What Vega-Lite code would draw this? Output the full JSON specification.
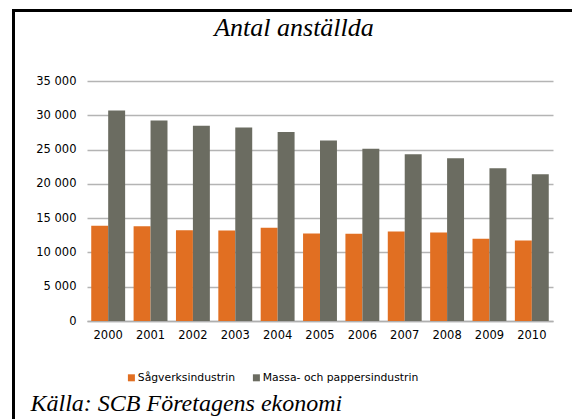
{
  "$schema": "https://vega.github.io/schema/vega-lite/v6.json",
  "autosize": "none",
  "width": 466,
  "height": 240,
  "padding": {"left": 87, "top": 81, "right": 19, "bottom": 98},
  "background": "white",
  "title": {
    "text": "Antal anställda",
    "font": "Liberation Serif",
    "fontStyle": "italic",
    "fontWeight": "normal",
    "fontSize": 26,
    "color": "#000000",
    "anchor": "middle",
    "frame": "group",
    "dx": -26,
    "dy": 25,
    "baseline": "alphabetic",
    "offset": -29.5
  },
  "datasets": {
    "antal": [
      {"year": "2000", "serie": "Sågverksindustrin", "antal": 13900},
      {"year": "2001", "serie": "Sågverksindustrin", "antal": 13830},
      {"year": "2002", "serie": "Sågverksindustrin", "antal": 13240},
      {"year": "2003", "serie": "Sågverksindustrin", "antal": 13200},
      {"year": "2004", "serie": "Sågverksindustrin", "antal": 13590},
      {"year": "2005", "serie": "Sågverksindustrin", "antal": 12760},
      {"year": "2006", "serie": "Sågverksindustrin", "antal": 12720},
      {"year": "2007", "serie": "Sågverksindustrin", "antal": 13050},
      {"year": "2008", "serie": "Sågverksindustrin", "antal": 12910},
      {"year": "2009", "serie": "Sågverksindustrin", "antal": 11990},
      {"year": "2010", "serie": "Sågverksindustrin", "antal": 11740},
      {"year": "2000", "serie": "Massa- och pappersindustrin", "antal": 30700},
      {"year": "2001", "serie": "Massa- och pappersindustrin", "antal": 29240},
      {"year": "2002", "serie": "Massa- och pappersindustrin", "antal": 28460},
      {"year": "2003", "serie": "Massa- och pappersindustrin", "antal": 28220},
      {"year": "2004", "serie": "Massa- och pappersindustrin", "antal": 27560},
      {"year": "2005", "serie": "Massa- och pappersindustrin", "antal": 26320},
      {"year": "2006", "serie": "Massa- och pappersindustrin", "antal": 25110},
      {"year": "2007", "serie": "Massa- och pappersindustrin", "antal": 24330},
      {"year": "2008", "serie": "Massa- och pappersindustrin", "antal": 23740},
      {"year": "2009", "serie": "Massa- och pappersindustrin", "antal": 22290},
      {"year": "2010", "serie": "Massa- och pappersindustrin", "antal": 21410}
    ],
    "frame": [{"part": "frame"}]
  },
  "layer": [
    {
      "data": {"name": "antal"},
      "mark": {"type": "bar"},
      "encoding": {
        "x": {
          "field": "year",
          "type": "nominal",
          "scale": {"paddingInner": 0.2, "paddingOuter": 0.1},
          "axis": {
            "title": "Källa: SCB Företagens ekonomi",
            "titleFont": "Liberation Serif",
            "titleFontStyle": "italic",
            "titleFontWeight": "normal",
            "titleFontSize": 24,
            "titleColor": "#000000",
            "titleAnchor": "start",
            "titleAlign": "left",
            "titleBaseline": "alphabetic",
            "titleX": -57,
            "titleY": 89,
            "labelAngle": 0,
            "labelFont": "DejaVu Sans",
            "labelFontSize": 11.5,
            "labelColor": "#000000",
            "labelPadding": 8,
            "ticks": false,
            "domain": true,
            "domainColor": "#AFAFAF",
            "domainWidth": 1.5,
            "grid": false
          }
        },
        "xOffset": {
          "field": "serie",
          "type": "nominal",
          "sort": ["Sågverksindustrin", "Massa- och pappersindustrin"],
          "scale": {"paddingInner": 0, "paddingOuter": 0}
        },
        "y": {
          "field": "antal",
          "type": "quantitative",
          "scale": {"domain": [0, 35000], "nice": false},
          "axis": {
            "title": null,
            "values": [0, 5000, 10000, 15000, 20000, 25000, 30000, 35000],
            "labelExpr": "replace(format(datum.value, ','), ',', ' ')",
            "labelFont": "DejaVu Sans",
            "labelFontSize": 11.5,
            "labelColor": "#000000",
            "labelPadding": 11,
            "ticks": false,
            "domain": false,
            "grid": true,
            "gridColor": "#B4B4B4",
            "gridWidth": 1.5
          }
        },
        "color": {
          "field": "serie",
          "type": "nominal",
          "scale": {
            "domain": ["Sågverksindustrin", "Massa- och pappersindustrin"],
            "range": ["#E16F22", "#6B6C61"]
          },
          "legend": {
            "title": null,
            "orient": "none",
            "legendX": 39,
            "legendY": 291,
            "direction": "horizontal",
            "symbolType": "square",
            "symbolSize": 49,
            "symbolStrokeWidth": 0,
            "labelFont": "DejaVu Sans",
            "labelFontSize": 10.8,
            "labelColor": "#000000",
            "labelOffset": 1,
            "columnPadding": 15
          }
        }
      }
    },
    {
      "data": {"name": "frame"},
      "mark": {"type": "rule", "color": "#000000", "strokeWidth": 3, "strokeCap": "butt"},
      "encoding": {
        "x": {"value": -73.5},
        "y": {"value": -72},
        "y2": {"value": 345}
      }
    },
    {
      "data": {"name": "frame"},
      "mark": {"type": "rule", "color": "#000000", "strokeWidth": 3, "strokeCap": "butt"},
      "encoding": {
        "x": {"value": -75},
        "x2": {"value": 500},
        "y": {"value": -70.5}
      }
    }
  ],
  "config": {"view": {"stroke": null}}
}
